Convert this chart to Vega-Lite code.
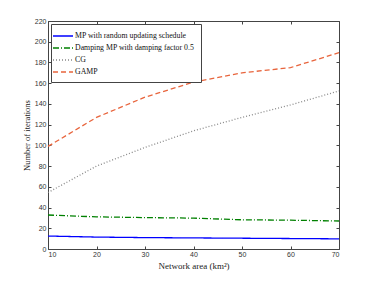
{
  "$schema": "https://vega.github.io/schema/vega-lite/v6.json",
  "width": 291,
  "height": 228,
  "autosize": "none",
  "padding": {"left": 48, "top": 21, "right": 35, "bottom": 32},
  "background": "white",
  "config": {
    "view": {"stroke": "#444", "strokeWidth": 1},
    "font": "Liberation Serif"
  },
  "data": {
    "values": [
      {"area": 10, "series": "MP with random updating schedule", "iter": 12.5},
      {"area": 20, "series": "MP with random updating schedule", "iter": 11.5},
      {"area": 30, "series": "MP with random updating schedule", "iter": 11},
      {"area": 40, "series": "MP with random updating schedule", "iter": 10.7},
      {"area": 50, "series": "MP with random updating schedule", "iter": 10.4},
      {"area": 60, "series": "MP with random updating schedule", "iter": 10.1},
      {"area": 70, "series": "MP with random updating schedule", "iter": 9.8},
      {"area": 10, "series": "Damping MP with damping factor 0.5", "iter": 32.8},
      {"area": 20, "series": "Damping MP with damping factor 0.5", "iter": 31},
      {"area": 30, "series": "Damping MP with damping factor 0.5", "iter": 30.3},
      {"area": 40, "series": "Damping MP with damping factor 0.5", "iter": 29.8},
      {"area": 50, "series": "Damping MP with damping factor 0.5", "iter": 28.2},
      {"area": 60, "series": "Damping MP with damping factor 0.5", "iter": 27.8},
      {"area": 70, "series": "Damping MP with damping factor 0.5", "iter": 27},
      {"area": 10, "series": "CG", "iter": 54.5},
      {"area": 20, "series": "CG", "iter": 80},
      {"area": 30, "series": "CG", "iter": 98},
      {"area": 40, "series": "CG", "iter": 114},
      {"area": 50, "series": "CG", "iter": 127},
      {"area": 60, "series": "CG", "iter": 139},
      {"area": 70, "series": "CG", "iter": 152.5},
      {"area": 10, "series": "GAMP", "iter": 99},
      {"area": 20, "series": "GAMP", "iter": 127},
      {"area": 30, "series": "GAMP", "iter": 146.5},
      {"area": 40, "series": "GAMP", "iter": 161},
      {"area": 50, "series": "GAMP", "iter": 170},
      {"area": 60, "series": "GAMP", "iter": 175},
      {"area": 70, "series": "GAMP", "iter": 189.5}
    ]
  },
  "layer": [
    {
      "mark": {"type": "line", "strokeWidth": 1.3},
      "encoding": {
        "x": {
          "field": "area", "type": "quantitative",
          "scale": {"domain": [10, 70], "nice": false},
          "axis": {
            "title": "Network area (km²)", "values": [10, 20, 30, 40, 50, 60, 70],
            "grid": false, "tickSize": -3, "labelPadding": 4, "domain": false,
            "tickColor": "#444", "labelFont": "Liberation Sans", "labelFontSize": 7, "labelColor": "#333",
            "titleFont": "Liberation Serif", "titleFontSize": 9, "titleFontWeight": "normal", "titleColor": "#222", "titlePadding": 4
          }
        },
        "y": {
          "field": "iter", "type": "quantitative",
          "scale": {"domain": [0, 220], "nice": false},
          "axis": {
            "title": "Number of iterations", "values": [0, 20, 40, 60, 80, 100, 120, 140, 160, 180, 200, 220],
            "grid": false, "tickSize": -3, "labelPadding": 5, "domain": false,
            "tickColor": "#444", "labelFont": "Liberation Sans", "labelFontSize": 7, "labelColor": "#333",
            "titleFont": "Liberation Serif", "titleFontSize": 8.5, "titleFontWeight": "normal", "titleColor": "#222", "titlePadding": 3
          }
        },
        "color": {
          "field": "series", "type": "nominal",
          "scale": {
            "domain": ["MP with random updating schedule", "Damping MP with damping factor 0.5", "CG", "GAMP"],
            "range": ["#0000ff", "#008000", "#888888", "#e8643c"]
          },
          "legend": {
            "title": null, "orient": "top-left", "offset": 3,
            "strokeColor": "#444", "fillColor": "white", "padding": 6,
            "symbolType": "M-2,0L2,0", "symbolSize": 100, "symbolStrokeWidth": 1.4,
            "labelFont": "Liberation Serif", "labelFontSize": 7.8, "labelColor": "#111", "rowPadding": 2, "labelLimit": 300, "labelOffset": 6
          }
        },
        "strokeDash": {
          "field": "series", "type": "nominal",
          "scale": {
            "domain": ["MP with random updating schedule", "Damping MP with damping factor 0.5", "CG", "GAMP"],
            "range": [[1, 0], [6, 2, 1, 2], [1, 2], [5, 3]]
          },
          "legend": null
        }
      }
    },
    {
      "mark": {"type": "line", "opacity": 0},
      "encoding": {
        "x": {
          "field": "area", "type": "quantitative",
          "axis": {"orient": "top", "values": [10, 20, 30, 40, 50, 60, 70], "labels": false, "title": null, "grid": false, "domain": false, "tickSize": -3, "tickColor": "#444"}
        },
        "y": {
          "field": "iter", "type": "quantitative",
          "axis": {"orient": "right", "values": [0, 20, 40, 60, 80, 100, 120, 140, 160, 180, 200, 220], "labels": false, "title": null, "grid": false, "domain": false, "tickSize": -3, "tickColor": "#444"}
        },
        "detail": {"field": "series"}
      }
    }
  ],
  "resolve": {"axis": {"x": "independent", "y": "independent"}}
}
